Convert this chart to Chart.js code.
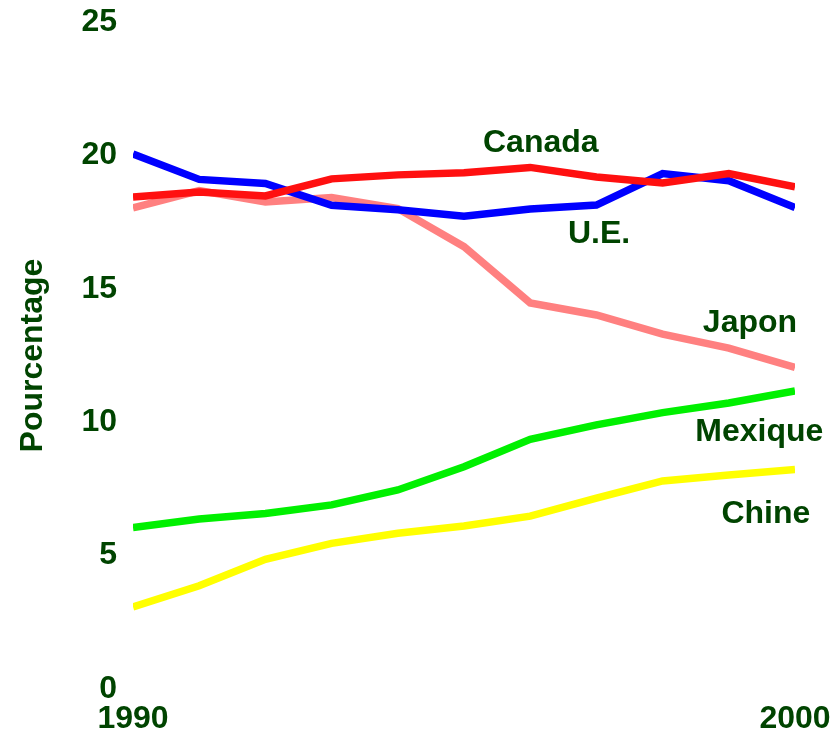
<!DOCTYPE html>
<html>
<head>
<meta charset="utf-8">
<script src="https://cdn.jsdelivr.net/npm/chart.js@4"></script>
<style>
  html, body { margin: 0; padding: 0; background: #ffffff; }
  #wrap { width: 837px; height: 731px; position: relative; }
</style>
</head>
<body>
<div id="wrap"><canvas id="c" width="837" height="731"></canvas></div>
<script>
const years = [1990, 1991, 1992, 1993, 1994, 1995, 1996, 1997, 1998, 1999, 2000];
const canada  = [18.44, 18.63, 18.48, 19.12, 19.27, 19.35, 19.55, 19.19, 18.97, 19.32, 18.82];
const ue      = [20.05, 19.10, 18.95, 18.13, 17.96, 17.72, 17.99, 18.14, 19.32, 19.05, 18.05];
const japon   = [18.03, 18.68, 18.25, 18.42, 18.01, 16.58, 14.47, 14.02, 13.30, 12.78, 12.05];
const mexique = [6.05, 6.37, 6.58, 6.90, 7.46, 8.33, 9.36, 9.90, 10.36, 10.72, 11.17];
const chine   = [3.08, 3.87, 4.86, 5.46, 5.84, 6.11, 6.48, 7.15, 7.80, 8.02, 8.23];
const yTicks = [0, 5, 10, 15, 20, 25];
const xTickLabels = [1990, 2000];

const seriesNames = ['Canada', 'U.E.', 'Japon', 'Mexique', 'Chine'];
const labelAnchors = [
  { text: 'Canada',  x: 1996.16, y: 20.13 },
  { text: 'U.E.',    x: 1997.04, y: 16.72 },
  { text: 'Japon',   x: 1999.32, y: 13.38 },
  { text: 'Mexique', x: 1999.46, y: 9.30 },
  { text: 'Chine',   x: 1999.56, y: 6.22 }
];

const textColor = '#004400';
const fontFamily = '"Liberation Sans", Arial, Helvetica, sans-serif';

function pts(vals) { return years.map((yr, i) => ({ x: yr, y: vals[i] })); }
function ds(label, vals, color) {
  return { label, data: pts(vals), borderColor: color, backgroundColor: color,
           borderWidth: 7.5, pointRadius: 0, tension: 0, fill: false };
}

const labelPlugin = {
  id: 'seriesLabels',
  afterDatasetsDraw(chart, args, opts) {
    const ctx = chart.ctx;
    const xs = chart.scales.x, ys = chart.scales.y;
    ctx.save();
    ctx.fillStyle = textColor;
    ctx.font = 'bold 32px ' + fontFamily;
    ctx.textAlign = 'center';
    ctx.textBaseline = 'alphabetic';
    opts.items.forEach(it => {
      ctx.fillText(it.text, xs.getPixelForValue(it.x), ys.getPixelForValue(it.y));
    });
    ctx.restore();
  }
};

new Chart(document.getElementById('c'), {
  type: 'line',
  data: {
    datasets: [
      ds(seriesNames[0], canada, '#ff1010'),
      ds(seriesNames[1], ue, '#0000ff'),
      ds(seriesNames[2], japon, '#ff8080'),
      ds(seriesNames[3], mexique, '#00f000'),
      ds(seriesNames[4], chine, '#ffff00')
    ]
  },
  options: {
    responsive: false,
    animation: false,
    events: [],
    layout: { padding: { left: 10, top: 22, right: 42, bottom: 0 } },
    plugins: {
      legend: { display: false },
      tooltip: { enabled: false },
      seriesLabels: { items: labelAnchors }
    },
    scales: {
      x: {
        type: 'linear',
        min: years[0],
        max: years[years.length - 1],
        grid: { display: false, drawTicks: false },
        border: { display: false },
        afterBuildTicks: s => { s.ticks = xTickLabels.map(v => ({ value: v })); },
        afterFit: s => { s.height = 42; s.paddingLeft = 0; s.paddingRight = 0; },
        ticks: {
          color: textColor,
          font: { family: fontFamily, size: 32, weight: 'bold', lineHeight: 1 },
          padding: 14,
          maxRotation: 0,
          autoSkip: false,
          callback: v => String(v)
        }
      },
      y: {
        min: 0,
        max: 25,
        grid: { display: false, drawTicks: false },
        border: { display: false },
        afterBuildTicks: s => { s.ticks = yTicks.map(v => ({ value: v })); },
        afterFit: s => { s.width = 123; s.paddingTop = 0; s.paddingBottom = 0; },
        title: {
          display: true,
          text: 'Pourcentage',
          color: textColor,
          font: { family: fontFamily, size: 32, weight: 'bold', lineHeight: 1.2 },
          padding: { top: 4, bottom: 4 }
        },
        ticks: {
          color: textColor,
          font: { family: fontFamily, size: 32, weight: 'bold' },
          padding: 16,
          callback: v => String(v)
        }
      }
    }
  },
  plugins: [labelPlugin]
});
</script>
</body>
</html>
